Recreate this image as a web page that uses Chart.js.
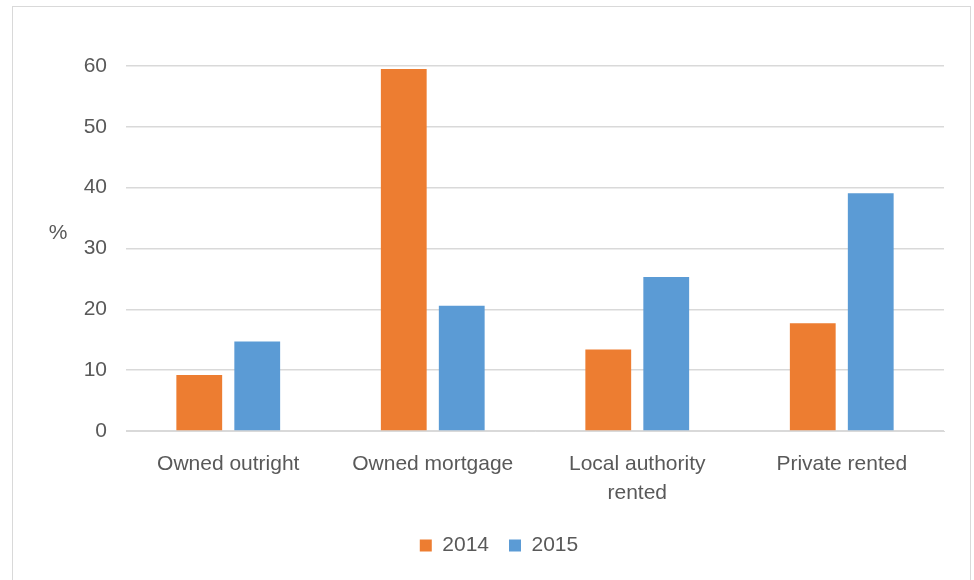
<!DOCTYPE html>
<html>
<head>
<meta charset="utf-8">
<script src="https://cdn.jsdelivr.net/npm/chart.js@4/dist/chart.umd.min.js"></script>
<style>
  html, body { margin: 0; padding: 0; background: #fff; }
  #wrap { position: relative; width: 974px; height: 580px; overflow: hidden; }
  #frame { position: absolute; left: 12px; top: 6px; width: 959px; height: 600px; border: 1px solid #d9d9d9; box-sizing: border-box; }
  #chart { position: absolute; left: 0; top: 0; }
</style>
</head>
<body>
<div id="wrap">
  <div id="frame"></div>
  <canvas id="chart" width="974" height="580"></canvas>
</div>
<script>
// 数据
const categories = ["Owned outright", "Owned mortgage", ["Local authority", "rented"], "Private rented"];
const seriesNames = ["2014", "2015"];
const values2014 = [9.2, 59.5, 13.4, 17.7];
const values2015 = [14.7, 20.6, 25.3, 39.1];
const yTicks = [0, 10, 20, 30, 40, 50, 60];

const TEXT = "#595959";
const FONT = "'Liberation Sans', Arial, sans-serif";

// y 轴标题 "%" 横排
const percentLabel = {
    id: "percentLabel",
    afterDraw(chart) {
        const ctx = chart.ctx;
        const y = chart.scales.y;
        ctx.save();
        ctx.fillStyle = TEXT;
        ctx.font = "21px " + FONT;
        ctx.textAlign = "center";
        ctx.textBaseline = "middle";
        ctx.fillText("%", 58, y.getPixelForValue(32.5));
        ctx.restore();
    }
};

new Chart(document.getElementById("chart"), {
    type: "bar",
    data: {
        labels: categories,
        datasets: [
            { label: seriesNames[0], data: values2014, backgroundColor: "#ED7D31" },
            { label: seriesNames[1], data: values2015, backgroundColor: "#5B9BD5" }
        ]
    },
    options: {
        responsive: false,
        animation: false,
        datasets: { bar: { categoryPercentage: 0.567, barPercentage: 0.79 } },
        // 左边距放大一些，让图例居中在 ~499
        layout: { padding: { top: 66, left: 54, right: 30, bottom: 14 } },
        scales: {
            x: {
                grid: { display: false, drawTicks: false },
                border: { color: "#d9d9d9" },
                ticks: { color: TEXT, font: { family: FONT, size: 21, lineHeight: 1.38 }, padding: 19, maxRotation: 0, autoSkip: false },
                afterFit(s) { s.height = 84; }
            },
            y: {
                min: 0, max: 60,
                afterBuildTicks(s) { s.ticks = yTicks.map(v => ({ value: v })); },
                grid: { color: "#d9d9d9", lineWidth: 1.5, drawTicks: false },
                border: { display: false },
                ticks: { color: TEXT, font: { family: FONT, size: 21 }, padding: 19 },
                afterFit(s) { s.width = 72; }
            }
        },
        plugins: {
            legend: {
                position: "bottom",
                labels: { color: TEXT, font: { family: FONT, size: 21 }, boxWidth: 12, boxHeight: 12, padding: 20 }
            },
            tooltip: { enabled: false }
        }
    },
    plugins: [percentLabel]
});
</script>
</body>
</html>
